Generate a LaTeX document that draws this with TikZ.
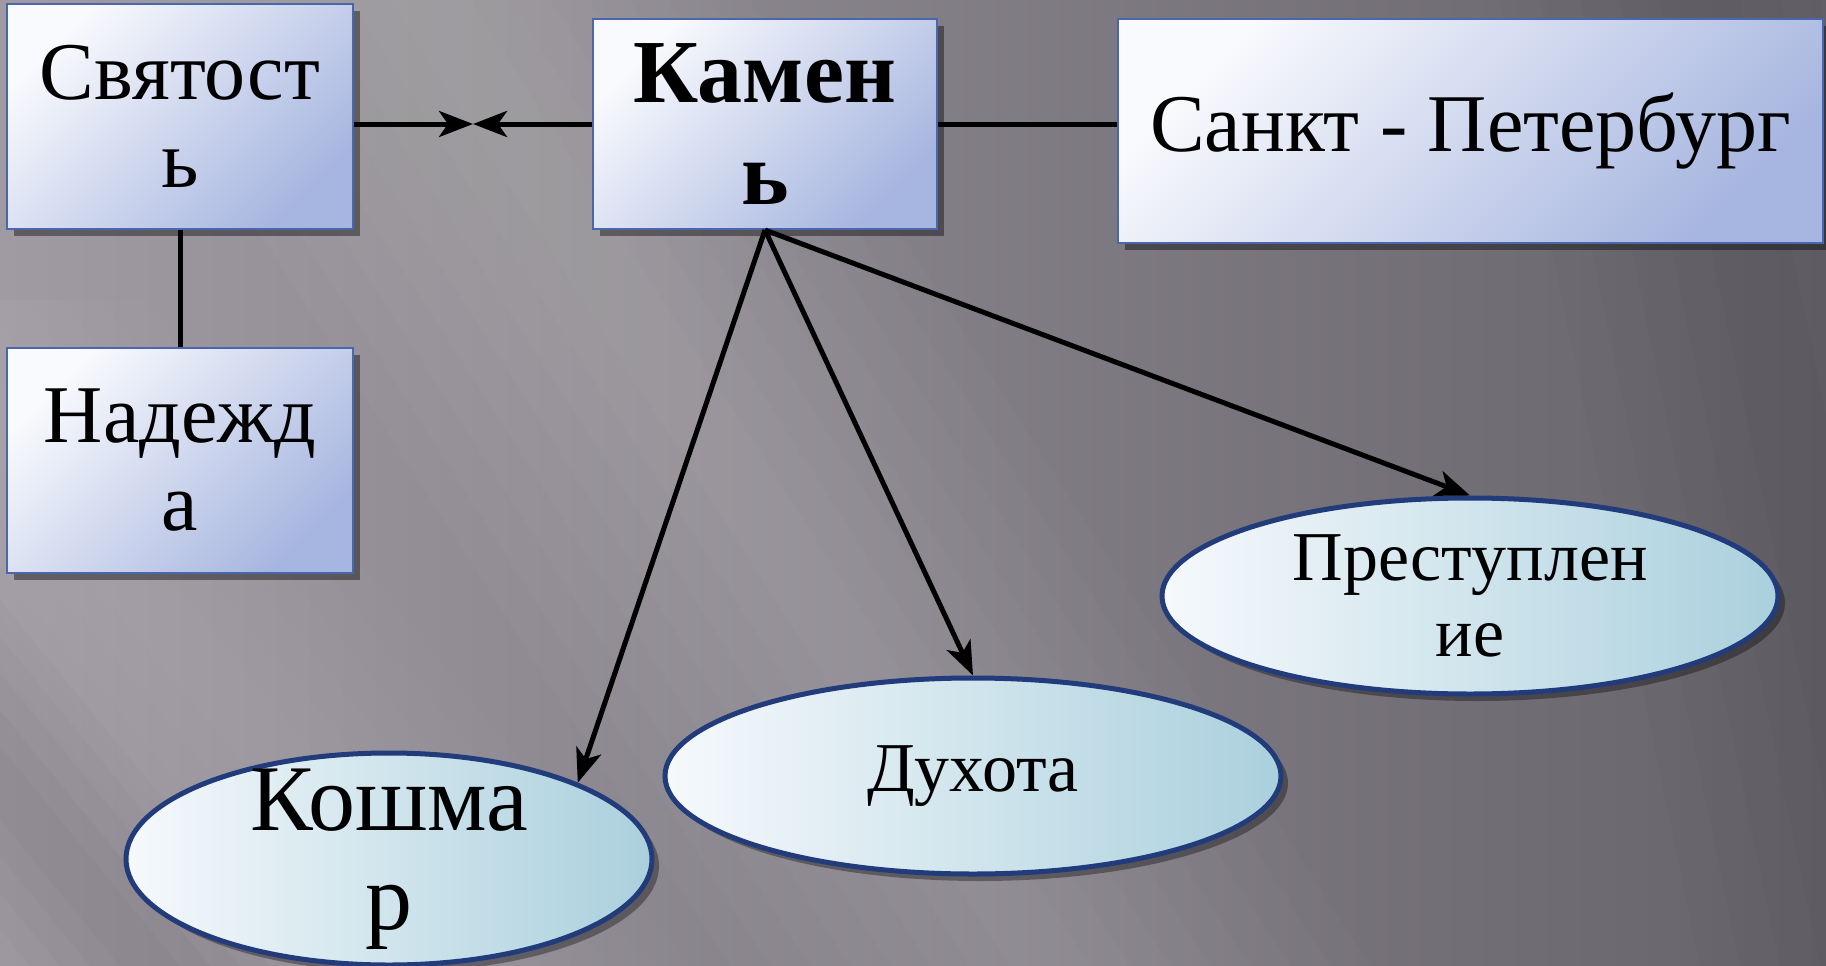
\documentclass[tikz,border=0pt]{standalone}
\usepackage{fontspec}
\setmainfont{Liberation Serif}
\usetikzlibrary{arrows.meta,shapes.geometric,shadows}
\definecolor{bgL}{HTML}{A09BA3}
\definecolor{bgR}{HTML}{67636A}
\definecolor{boxline}{HTML}{4A66AC}
\definecolor{boxA}{HTML}{F9FAFD}
\definecolor{boxB}{HTML}{A7B6E0}
\definecolor{ellline}{HTML}{213B7B}
\definecolor{ellA}{HTML}{F6F9FC}
\definecolor{ellB}{HTML}{AAD0DD}
\tikzset{
  sbox/.style={rectangle, draw=boxline, line width=2pt, inner sep=0pt,
    top color=boxA, bottom color=boxB, shading angle=45,
    drop shadow={shadow xshift=7pt, shadow yshift=-7pt, opacity=0.4, fill=black}},
  sell/.style={ellipse, draw=ellline, line width=5pt, inner sep=0pt,
    left color=ellA, right color=ellB,
    drop shadow={shadow xshift=7pt, shadow yshift=-7pt, opacity=0.35, fill=black}},
  conn/.style={line width=5pt, black},
  arr/.style={conn, -{Stealth[length=34pt, width=26pt, inset=9pt]}},
}
\begin{document}
\begin{tikzpicture}[x=1pt,y=-1pt]
\useasboundingbox (0,0) rectangle (1826,966);
% background
\shade[left color=bgL, right color=bgR] (0,0) rectangle (1826,966);
\foreach \w in {40,80,...,320}
  \fill[white, opacity=0.018] ({430-\w},0) -- ({430+\w},0) -- ({1050+\w},966) -- ({1050-\w},966) -- cycle;
\foreach \w in {40,80,...,240}
  \fill[white, opacity=0.015] ({-100-\w},300) -- ({-100+\w},300) -- ({450+\w},966) -- ({450-\w},966) -- cycle;
\foreach \w in {40,80,...,200}
  \fill[black, opacity=0.015] ({1700-\w},0) -- ({1700+\w},0) -- ({1900+\w},966) -- ({1900-\w},966) -- cycle;
\foreach \w in {30,60,...,150}
  \fill[black, opacity=0.015] ({-150-\w},600) -- ({-150+\w},600) -- ({150+\w},966) -- ({150-\w},966) -- cycle;
% boxes
\node[sbox, minimum width=346pt, minimum height=225pt] (sv) at (180,116.5) {};
\node[font=\fontsize{82}{88}\selectfont, align=center] at (sv.center) {Святост\\ь};
\node[sbox, minimum width=344pt, minimum height=210pt] (kam) at (765,124) {};
\node[font=\fontsize{90}{102}\selectfont\bfseries, align=center] at (kam.center) {Камен\\ь};
\node[sbox, minimum width=705pt, minimum height=224pt] (spb) at (1470.5,131) {};
\node[font=\fontsize{82}{88}\selectfont] at (spb.center) {Санкт - Петербург};
\node[sbox, minimum width=346pt, minimum height=225pt] (nad) at (180,460.5) {};
\node[font=\fontsize{82}{88}\selectfont, align=center] at (nad.center) {Надежд\\а};
% ellipses
\node[sell, minimum width=526pt, minimum height=212pt] (kosh) at (389,859) {};
\node[font=\fontsize{94}{99}\selectfont, align=center] at (kosh.center) {Кошма\\р};
\node[sell, minimum width=616pt, minimum height=196pt] (duh) at (973,776) {};
\node[font=\fontsize{70}{80}\selectfont] at (duh.center) {Духота};
\node[sell, minimum width=616pt, minimum height=196pt] (pre) at (1470,596) {};
\node[font=\fontsize{70}{76}\selectfont, align=center] at (pre.center) {Преступлен\\ие};
% connectors
\coordinate (mid) at (473,124);
\draw[arr] (sv.east |- mid) -- (mid);
\draw[arr] (kam.west) -- (mid);
\draw[conn] (kam.east) -- (kam.east -| spb.west);
\draw[conn] (sv.south) -- (nad.north);
\draw[arr] (kam.south) -- (kosh.22);
\draw[arr] (kam.south) -- (duh.north);
\draw[arr] (kam.south) -- (pre.north);
\end{tikzpicture}
\end{document}
